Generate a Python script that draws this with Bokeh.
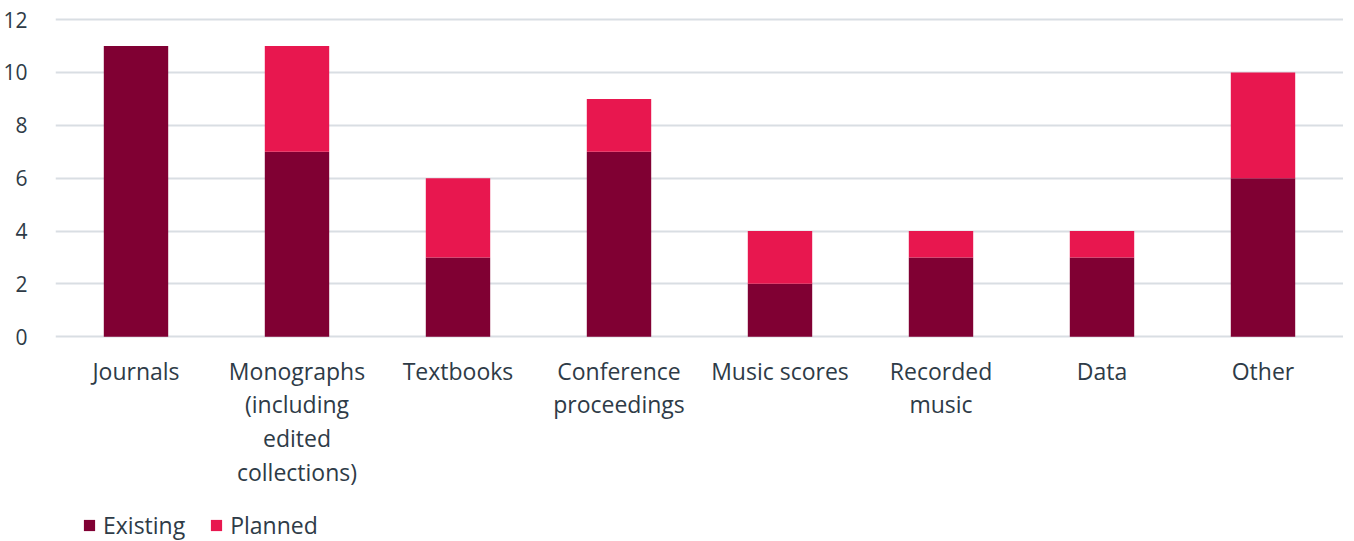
from bokeh.plotting import figure
from bokeh.models import FactorRange, Range1d, Legend, LegendItem, FixedTicker, ColumnDataSource
from bokeh.embed import file_html
from bokeh.resources import INLINE

categories = ["Journals", "Monographs\n(including\nedited\ncollections)", "Textbooks",
              "Conference\nproceedings", "Music scores", "Recorded\nmusic", "Data", "Other"]
existing = [11, 7, 3, 7, 2, 3, 3, 6]
planned = [0, 4, 3, 2, 2, 1, 1, 4]
y_ticks = [0, 2, 4, 6, 8, 10, 12]

FONT = "Open Sans"
TXT = "#2e3b47"

src = ColumnDataSource(dict(cat=categories, existing=existing, planned=planned))

p = figure(frame_width=1288, frame_height=524, x_range=FactorRange(*categories, range_padding=0),
           y_range=Range1d(-7.75, 12.08), output_backend="svg", toolbar_location=None,
           min_border_left=50, min_border_right=0, min_border_top=17, min_border_bottom=0)
p.outline_line_color = None

rs = p.vbar_stack(["existing", "planned"], x="cat", width=0.4, source=src,
                  fill_color=["#800033", "#e8174f"], line_color=None)

p.yaxis.ticker = FixedTicker(ticks=y_ticks)
p.ygrid.ticker = FixedTicker(ticks=y_ticks)
p.ygrid.grid_line_color = "#d9dee3"
p.ygrid.grid_line_width = 2
p.xgrid.grid_line_color = None
for ax in (p.xaxis, p.yaxis):
    ax.axis_line_color = None
    ax.major_tick_line_color = None
    ax.minor_tick_line_color = None
    ax.major_label_text_font = FONT
    ax.major_label_text_color = TXT
p.xaxis.fixed_location = 0
p.xaxis.major_label_text_font_size = "23px"
p.yaxis.major_label_text_font_size = "21px"
p.yaxis.major_label_standoff = 22
p.xaxis.major_label_standoff = 12
p.xaxis.major_label_text_line_height = 1.05

legend = Legend(items=[LegendItem(label="Existing", renderers=[rs[0]]),
                       LegendItem(label="Planned", renderers=[rs[1]])],
                orientation="horizontal", location=(27, 0),
                label_text_font=FONT, label_text_color=TXT, label_text_font_size="23px",
                label_height=20, glyph_width=14, glyph_height=14, label_standoff=7, spacing=24,
                border_line_color=None, background_fill_alpha=0,
                padding=0, margin=0)
p.add_layout(legend, "center")

open("out.html", "w").write(file_html(p, INLINE))
